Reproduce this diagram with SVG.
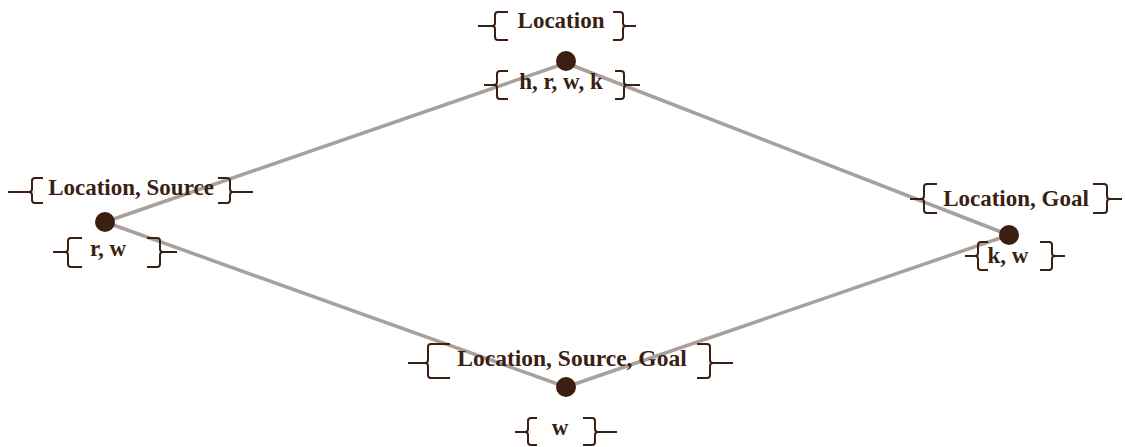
<svg xmlns="http://www.w3.org/2000/svg" width="1125" height="447" viewBox="0 0 1125 447">
<style>
.t{font-family:"Liberation Serif","Times New Roman",serif;font-weight:bold;font-size:23px;fill:#3a1f12;text-anchor:middle}
.b{fill:none;stroke:#3b2012;stroke-width:2;stroke-linecap:butt}
.e{stroke:#a8a09a;stroke-width:3.5;fill:none}
.d{fill:#3b1f10}
</style>
<rect width="1125" height="447" fill="#ffffff"/>
<g id="connectors">
<line class="e" x1="566" y1="63" x2="105" y2="222"/>
<line class="e" x1="566" y1="63" x2="1009" y2="235"/>
<line class="e" x1="105" y1="222" x2="566" y2="387"/>
<line class="e" x1="1009" y1="235" x2="566" y2="387"/>
</g>
<g id="node-top">
<circle class="d" cx="566" cy="61" r="10"/>
<path class="b" d="M508,12 H498 Q495,12 495,15 V23 Q495,26 492,26 H478 M492,26 Q495,26 495,29 V37 Q495,40 498,40 H508"/>
<path class="b" d="M613,12 H620 Q623,12 623,15 V23 Q623,26 626,26 H636 M626,26 Q623,26 623,29 V37 Q623,40 620,40 H613"/>
<text class="t" x="561" y="28">Location</text>
<path class="b" d="M508,71 H500 Q497,71 497,74 V82 Q497,85 494,85 H484 M494,85 Q497,85 497,88 V96 Q497,99 500,99 H508"/>
<path class="b" d="M615,71 H621 Q624,71 624,74 V82 Q624,85 627,85 H640 M627,85 Q624,85 624,88 V96 Q624,99 621,99 H615"/>
<text class="t" x="561" y="89">h, r, w, k</text>
</g>
<g id="node-left">
<circle class="d" cx="105" cy="222" r="10"/>
<path class="b" d="M43,178 H35 Q32,178 32,181 V189 Q32,192 29,192 H8 M29,192 Q32,192 32,195 V200 Q32,203 35,203 H43"/>
<path class="b" d="M218,178 H227 Q230,178 230,181 V189 Q230,192 233,192 H253 M233,192 Q230,192 230,195 V200 Q230,203 227,203 H218"/>
<text class="t" x="131" y="195">Location, Source</text>
<path class="b" d="M82,238 H71 Q68,238 68,241 V249 Q68,252 65,252 H53 M65,252 Q68,252 68,255 V264 Q68,267 71,267 H82"/>
<path class="b" d="M147,238 H157 Q160,238 160,241 V249 Q160,252 163,252 H177 M163,252 Q160,252 160,255 V264 Q160,267 157,267 H147"/>
<text class="t" x="108" y="256">r, w</text>
</g>
<g id="node-right">
<circle class="d" cx="1009" cy="235" r="10"/>
<path class="b" d="M937,184 H927 Q924,184 924,187 V196 Q924,199 921,199 H910 M921,199 Q924,199 924,202 V210 Q924,213 927,213 H937"/>
<path class="b" d="M1093,184 H1104 Q1107,184 1107,187 V196 Q1107,199 1110,199 H1122 M1110,199 Q1107,199 1107,202 V210 Q1107,213 1104,213 H1093"/>
<text class="t" x="1016" y="206">Location, Goal</text>
<path class="b" d="M988,242 H981 Q978,242 978,245 V253 Q978,256 975,256 H965 M975,256 Q978,256 978,259 V267 Q978,270 981,270 H988"/>
<path class="b" d="M1040,242 H1049 Q1052,242 1052,245 V253 Q1052,256 1055,256 H1065 M1055,256 Q1052,256 1052,259 V267 Q1052,270 1049,270 H1040"/>
<text class="t" x="1008" y="263">k, w</text>
</g>
<g id="node-bottom">
<circle class="d" cx="566" cy="387" r="10"/>
<path class="b" d="M450,344 H431 Q428,344 428,347 V360 Q428,363 425,363 H408 M425,363 Q428,363 428,366 V375 Q428,378 431,378 H450"/>
<path class="b" d="M697,344 H707 Q710,344 710,347 V360 Q710,363 713,363 H733 M713,363 Q710,363 710,366 V375 Q710,378 707,378 H697"/>
<text class="t" x="572" y="366" style="font-size:23.5px">Location, Source, Goal</text>
<path class="b" d="M537,418 H531 Q528,418 528,421 V429 Q528,432 525,432 H515 M525,432 Q528,432 528,435 V442 Q528,445 531,445 H537"/>
<path class="b" d="M583,418 H592 Q595,418 595,421 V429 Q595,432 598,432 H617 M598,432 Q595,432 595,435 V442 Q595,445 592,445 H583"/>
<text class="t" x="560" y="435">w</text>
</g>
</svg>
